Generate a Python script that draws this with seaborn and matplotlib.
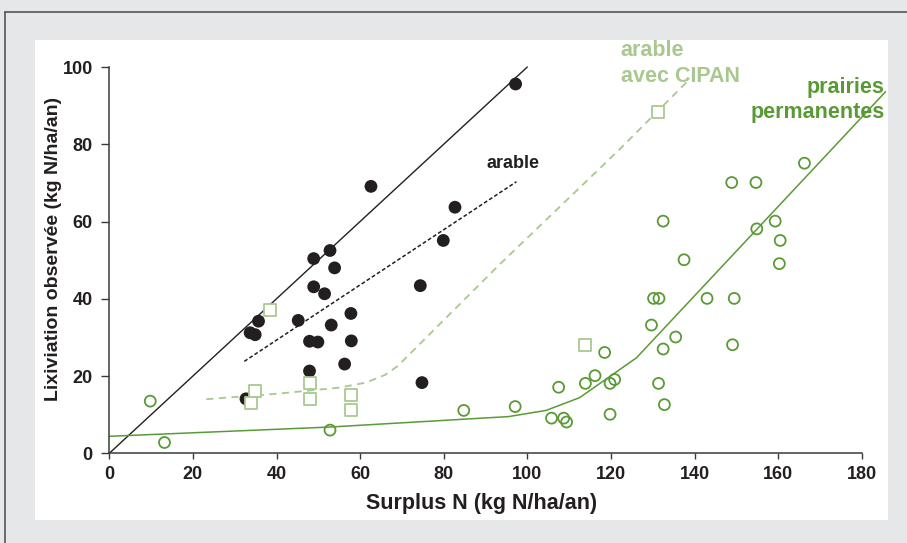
import matplotlib
matplotlib.use("Agg")
import matplotlib.pyplot as plt
import seaborn as sns
import pandas as pd

# ---- data ----
arable_x = [97.2, 62.6, 82.7, 79.9, 52.8, 48.9, 53.9, 48.9, 51.5, 74.4, 35.7, 33.7, 34.9,
            45.2, 57.8, 53.1, 47.9, 49.9, 57.9, 56.3, 47.9, 74.8, 32.7]
arable_y = [95.6, 69.1, 63.7, 55.1, 52.5, 50.4, 48.0, 43.1, 41.3, 43.4, 34.2, 31.2, 30.7,
            34.4, 36.2, 33.2, 29.0, 28.8, 29.1, 23.1, 21.3, 18.3, 14.1]

cipan_x = [38.4, 34.9, 33.9, 47.9, 47.9, 57.9, 57.9, 113.9, 131.2]
cipan_y = [37.1, 16.1, 13.1, 18.1, 14.1, 15.1, 11.1, 28.1, 88.4]

prairie_x = [166.3, 148.9, 154.7, 132.5, 159.3, 154.9, 160.5, 160.3, 137.5, 130.2, 131.5,
             143.0, 149.5, 129.7, 135.5, 132.5, 149.1, 118.5, 116.2, 113.9, 119.8, 120.9,
             131.4, 132.8, 107.5, 97.1, 105.8, 108.7, 109.4, 119.8, 9.8, 13.2, 52.8, 84.8]
prairie_y = [75.1, 70.1, 70.1, 60.1, 60.1, 58.1, 55.1, 49.1, 50.1, 40.1, 40.1,
             40.1, 40.1, 33.2, 30.1, 27.0, 28.1, 26.1, 20.1, 18.1, 18.1, 19.1,
             18.1, 12.6, 17.1, 12.1, 9.1, 9.1, 8.1, 10.1, 13.5, 2.8, 6.0, 11.1]

line11_x = [0, 100]
line11_y = [0, 100]

reg_x = [32.3, 97.4]
reg_y = [23.8, 70.3]

cipan_line_x = [23.2, 40, 55, 61.4, 66, 69.0, 93.3, 122, 138.6]
cipan_line_y = [14.0, 15.4, 17.0, 18.3, 20.3, 22.6, 48.8, 78.6, 96.6]

prairie_line_x = [0, 52.8, 95.5, 104.5, 112.5, 126.1, 173.1, 185.7]
prairie_line_y = [4.4, 6.8, 9.5, 11.1, 14.4, 24.7, 79.0, 93.6]

x_ticks = [0, 20, 40, 60, 80, 100, 120, 140, 160, 180]
y_ticks = [0, 20, 40, 60, 80, 100]

# ---- style ----
sns.set_theme(style="white")
plt.rcParams["font.family"] = ["Liberation Sans", "DejaVu Sans"]

BLACK = "#231f20"
AXC = "#3a3a3a"
GREEN = "#5a9a35"
LIGHT = "#a9c88f"
BG = "#e6e7e8"

fig = plt.figure(figsize=(9.07, 5.43), dpi=100)
fig.patch.set_facecolor(BG)
# white panel
fig.add_artist(plt.Rectangle((35 / 907, 1 - 520 / 543), (888 - 35) / 907, (520 - 40) / 543,
                             transform=fig.transFigure, facecolor="white", edgecolor="none",
                             zorder=-10))
# frame lines (top and left)
fig.add_artist(plt.Line2D([5 / 907, 1], [1 - 12 / 543, 1 - 12 / 543], transform=fig.transFigure,
                          color="#555555", lw=1.2, zorder=-9))
fig.add_artist(plt.Line2D([5 / 907, 5 / 907], [0, 1 - 12 / 543], transform=fig.transFigure,
                          color="#555555", lw=1.2, zorder=-9))

ax = fig.add_axes([109.3 / 907, 1 - 453.3 / 543, 752.4 / 907, 386.3 / 543])
ax.set_facecolor("none")

df_ar = pd.DataFrame({"x": arable_x, "y": arable_y})
df_ci = pd.DataFrame({"x": cipan_x, "y": cipan_y})
df_pr = pd.DataFrame({"x": prairie_x, "y": prairie_y})

sns.lineplot(x=line11_x, y=line11_y, ax=ax, color=BLACK, lw=1.0, sort=False, estimator=None)
sns.lineplot(x=reg_x, y=reg_y, ax=ax, color=BLACK, lw=1.1, sort=False, estimator=None,
             linestyle=(0, (2.5, 1.5)))
sns.lineplot(x=cipan_line_x, y=cipan_line_y, ax=ax, color=LIGHT, lw=1.3, sort=False,
             estimator=None, linestyle=(0, (4, 3)))
sns.lineplot(x=prairie_line_x, y=prairie_line_y, ax=ax, color=GREEN, lw=1.1, sort=False,
             estimator=None)
for ln in ax.lines:
    ln.set_clip_on(False)

sns.scatterplot(data=df_ar, x="x", y="y", ax=ax, color=BLACK, s=85, edgecolor="none",
                marker="o", clip_on=False, zorder=5)
sns.scatterplot(data=df_ci, x="x", y="y", ax=ax, marker="s", s=65, facecolor="white",
                edgecolor=LIGHT, linewidth=1.3, clip_on=False, zorder=6)
sns.scatterplot(data=df_pr, x="x", y="y", ax=ax, marker="o", s=62, facecolor="none",
                edgecolor=GREEN, linewidth=1.3, clip_on=False, zorder=6)

ax.set_xlim(0, 180)
ax.set_ylim(0, 100)
ax.set_xticks(x_ticks)
ax.set_yticks(y_ticks)
for sp in ["top", "right"]:
    ax.spines[sp].set_visible(False)
for sp in ["left", "bottom"]:
    ax.spines[sp].set_color(AXC)
    ax.spines[sp].set_linewidth(1.1)
ax.tick_params(axis="x", direction="out", length=4.3, width=1.0, color=AXC,
               labelsize=13, labelcolor=BLACK, pad=4.8, bottom=True)
ax.tick_params(axis="y", direction="out", length=6, width=1.0, color=AXC,
               labelsize=13, labelcolor=BLACK, pad=6, left=True)
for lab in ax.get_xticklabels() + ax.get_yticklabels():
    lab.set_fontweight("bold")

ax.set_xlabel("Surplus N (kg N/ha/an)", fontsize=15.5, fontweight="bold", color=BLACK)
ax.set_ylabel("Lixiviation observée (kg N/ha/an)", fontsize=14, fontweight="bold", color=BLACK)
ax.xaxis.set_label_coords(0.4947, -0.104)
ax.yaxis.set_label_coords(-0.0629, 0.530)

ax.text(96.65, 73.8, "arable", fontsize=13, fontweight="bold", color=BLACK,
        ha="center", va="baseline")
ax.text(122.3, 102.9, "arable", fontsize=15.5, fontweight="bold", color=LIGHT,
        ha="left", va="baseline")
ax.text(122.3, 96.1, "avec CIPAN", fontsize=15.5, fontweight="bold", color=LIGHT,
        ha="left", va="baseline")
ax.text(185.55, 93.2, "prairies", fontsize=15.5, fontweight="bold", color=GREEN,
        ha="right", va="baseline")
ax.text(185.55, 86.7, "permanentes", fontsize=15.5, fontweight="bold", color=GREEN,
        ha="right", va="baseline")

fig.savefig("out.png", dpi=100, facecolor=BG)
